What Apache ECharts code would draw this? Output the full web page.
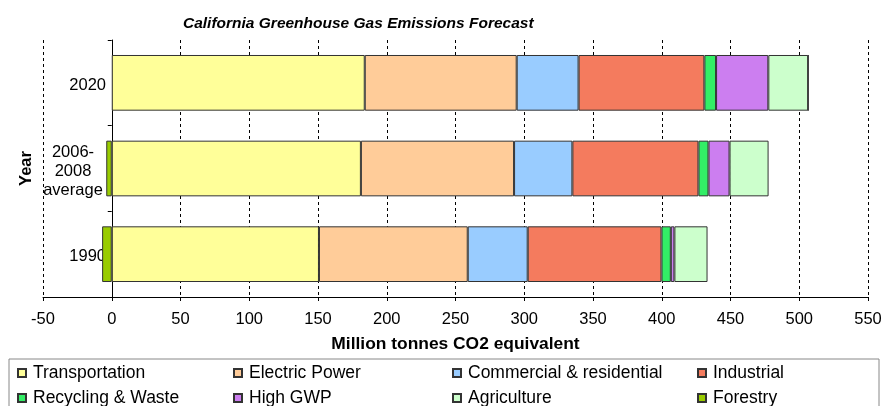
<!DOCTYPE html>
<html><head><meta charset="utf-8">
<script src="https://cdn.jsdelivr.net/npm/echarts@6/dist/echarts.min.js"></script>
<style>html,body{margin:0;padding:0;background:#fff}#c{width:885px;height:406px}</style>
</head><body><div id="c"></div>
<script>
const categories = ['1990', '2006-2008 average', '2020'];
const seriesNames = ['Transportation','Electric Power','Commercial & residential','Industrial','Recycling & Waste','High GWP','Agriculture','Forestry'];
const transportation = [150.7, 181.2, 184];
const electricPower = [108.2, 111.4, 110.5];
const commercialResidential = [43.6, 42.4, 45];
const industrial = [97.3, 91.7, 91.5];
const recyclingWaste = [6.8, 7.3, 8.5];
const highGWP = [2.6, 15.3, 38];
const agriculture = [24.1, 28.4, 29];
const forestry = [-7, -4, 0];
const xTicks = {min: -50, max: 550, interval: 50};

const values = [transportation, electricPower, commercialResidential, industrial, recyclingWaste, highGWP, agriculture, forestry];
const colors = ['#FFFF99','#FFCC99','#99CCFF','#F47B5E','#33EE66','#CC7EF0','#CCFFCC','#99CC00'];
const font = 'Liberation Sans, Arial, sans-serif';
const fs = 16.5;

const chart = echarts.init(document.getElementById('c'));
const legendPos = [[17,364],[233,364],[452,364],[697,364],[17,389],[233,389],[452,389],[697,389]];
chart.setOption({
  animation: false,
  title: {text: 'California Greenhouse Gas Emissions Forecast', left: 178, top: 11,
    textStyle: {fontFamily: font, fontSize: 15.5, fontWeight: 'bold', fontStyle: 'italic', color: '#000'}},
  grid: {left: 43, right: 17, top: 40, bottom: 109, containLabel: false, outerBoundsMode: 'none'},
  legend: seriesNames.map((n, i) => ({
    data: [n], left: legendPos[i][0], top: legendPos[i][1],
    icon: 'rect', itemWidth: 8, itemHeight: 8, itemGap: 6, padding: 0,
    textStyle: {fontFamily: font, fontSize: 17.5, color: '#000', padding: [0, 0, 0, 2]}, selectedMode: false
  })),
  graphic: [{type: 'rect', shape: {x: 9, y: 359, width: 870, height: 60},
    style: {fill: 'none', stroke: '#888', lineWidth: 1}, silent: true, z: 0}],
  xAxis: {
    type: 'value', min: xTicks.min, max: xTicks.max, interval: xTicks.interval,
    name: 'Million tonnes CO2 equivalent', nameLocation: 'middle', nameGap: 39,
    nameTextStyle: {fontFamily: font, fontSize: 17.4, fontWeight: 'bold', color: '#000'},
    axisLine: {show: true, lineStyle: {color: '#000', width: 1}},
    axisTick: {show: true, length: 4, lineStyle: {color: '#000'}},
    axisLabel: {fontFamily: font, fontSize: fs, color: '#000', margin: 14},
    splitLine: {show: true, lineStyle: {color: '#000', type: [3, 3], width: 1}}
  },
  yAxis: {
    type: 'category', data: categories,
    name: 'Year', nameLocation: 'middle', nameRotate: 90, nameGap: 8, nameMoveOverlap: false,
    nameTextStyle: {fontFamily: font, fontSize: fs, fontWeight: 'bold', color: '#000'},
    axisLine: {show: true, onZero: true, lineStyle: {color: '#000', width: 1}},
    axisTick: {show: true, length: 4, lineStyle: {color: '#000'}},
    axisLabel: {fontFamily: font, fontSize: fs, color: '#000', margin: -63, padding: [5, 0, 0, 0],
      formatter: (v) => v === '2006-2008 average' ? '{c|2006-}\n{c|2008}\n{c|average}' : v,
      rich: {c: {fontFamily: font, fontSize: fs, color: '#000', width: 66, align: 'center', lineHeight: 19}}},
    splitLine: {show: false}
  },
  series: values.map((d, i) => ({
    name: seriesNames[i], type: 'bar', stack: 'total', barWidth: '65%', data: d,
    itemStyle: {color: colors[i], borderColor: '#333', borderWidth: 1}
  }))
});
</script></body></html>
